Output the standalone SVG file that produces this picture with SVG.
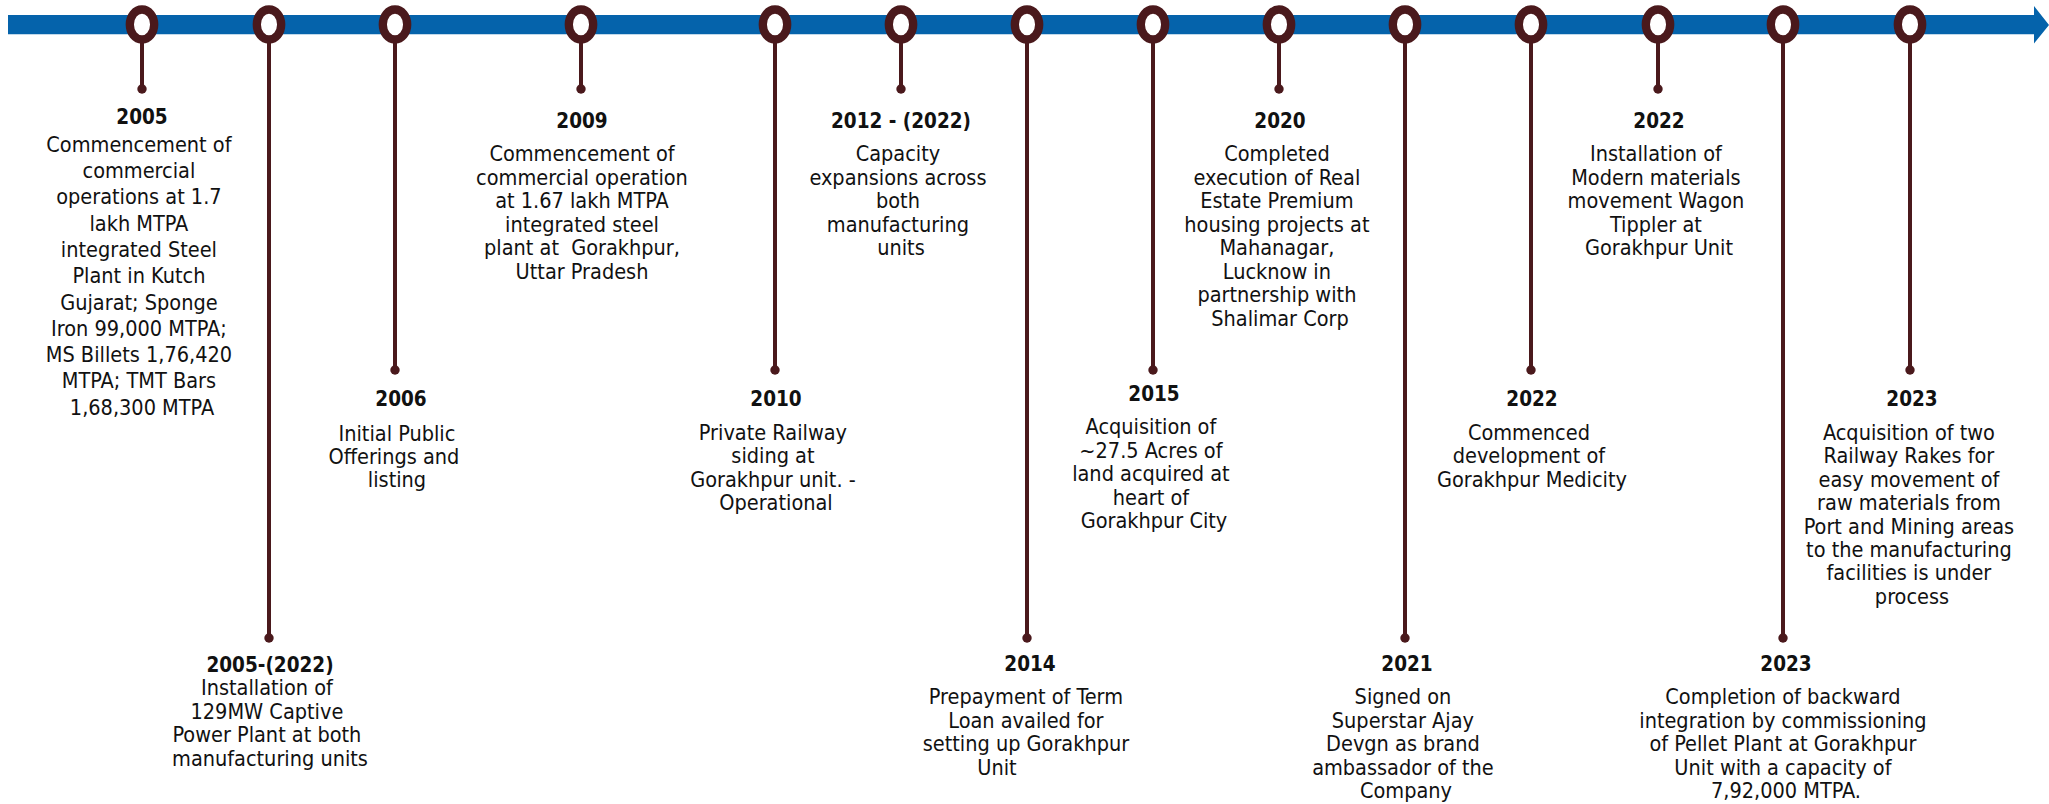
<svg xmlns="http://www.w3.org/2000/svg" width="2049" height="804" viewBox="0 0 2049 804">
<style>
.t{font-family:"DejaVu Sans Condensed","DejaVu Sans",sans-serif;font-stretch:condensed;font-size:21.5px;fill:#111;text-anchor:middle}
.y{font-family:"DejaVu Sans Condensed","DejaVu Sans",sans-serif;font-stretch:condensed;font-size:20.5px;font-weight:bold;fill:#111;text-anchor:middle}
.ring{fill:#fff;stroke:#4a191c;stroke-width:8.3}
.stem{stroke:#4a191c;stroke-width:4;fill:none}
.dot{fill:#4a191c}
</style>
<rect width="2049" height="804" fill="#fff"/>
<g id="timeline">
<polygon points="8,15 2034,15 2034,6 2049,25 2034,43.5 2034,34.3 8,34.3" fill="#0563ab"/>
</g>
<g id="connectors">
<line class="stem" x1="142" y1="40" x2="142" y2="89"/><circle class="dot" cx="142" cy="89" r="4.7"/>
<line class="stem" x1="269" y1="40" x2="269" y2="638"/><circle class="dot" cx="269" cy="638" r="4.7"/>
<line class="stem" x1="395" y1="40" x2="395" y2="370"/><circle class="dot" cx="395" cy="370" r="4.7"/>
<line class="stem" x1="581" y1="40" x2="581" y2="89"/><circle class="dot" cx="581" cy="89" r="4.7"/>
<line class="stem" x1="775" y1="40" x2="775" y2="370"/><circle class="dot" cx="775" cy="370" r="4.7"/>
<line class="stem" x1="901" y1="40" x2="901" y2="89"/><circle class="dot" cx="901" cy="89" r="4.7"/>
<line class="stem" x1="1027" y1="40" x2="1027" y2="638"/><circle class="dot" cx="1027" cy="638" r="4.7"/>
<line class="stem" x1="1153" y1="40" x2="1153" y2="370"/><circle class="dot" cx="1153" cy="370" r="4.7"/>
<line class="stem" x1="1279" y1="40" x2="1279" y2="89"/><circle class="dot" cx="1279" cy="89" r="4.7"/>
<line class="stem" x1="1405" y1="40" x2="1405" y2="638"/><circle class="dot" cx="1405" cy="638" r="4.7"/>
<line class="stem" x1="1531" y1="40" x2="1531" y2="370"/><circle class="dot" cx="1531" cy="370" r="4.7"/>
<line class="stem" x1="1658" y1="40" x2="1658" y2="89"/><circle class="dot" cx="1658" cy="89" r="4.7"/>
<line class="stem" x1="1783" y1="40" x2="1783" y2="638"/><circle class="dot" cx="1783" cy="638" r="4.7"/>
<line class="stem" x1="1910" y1="40" x2="1910" y2="370"/><circle class="dot" cx="1910" cy="370" r="4.7"/>
</g>
<g id="n2005">
<ellipse class="ring" cx="142" cy="24.5" rx="12.2" ry="15"/>
<text class="y" x="142" y="124">2005</text>
<text class="t">
<tspan x="142" y="151.7">Commencement of</tspan>
<tspan x="142" y="178">commercial</tspan>
<tspan x="142" y="204.3">operations at 1.7</tspan>
<tspan x="142" y="230.6">lakh MTPA</tspan>
<tspan x="142" y="257">integrated Steel</tspan>
<tspan x="142" y="283.2">Plant in Kutch</tspan>
<tspan x="142" y="309.5">Gujarat; Sponge</tspan>
<tspan x="142" y="335.8">Iron 99,000 MTPA;</tspan>
<tspan x="142" y="362">MS Billets 1,76,420</tspan>
<tspan x="142" y="388.4">MTPA; TMT Bars</tspan>
<tspan x="142" y="414.7">1,68,300 MTPA</tspan>
</text>
</g>
<g id="n2005-2022">
<ellipse class="ring" cx="269" cy="24.5" rx="12.2" ry="15"/>
<text class="y" x="270" y="671.7">2005-(2022)</text>
<text class="t">
<tspan x="270" y="695">Installation of</tspan>
<tspan x="270" y="718.5">129MW Captive</tspan>
<tspan x="270" y="742">Power Plant at both</tspan>
<tspan x="270" y="765.5">manufacturing units</tspan>
</text>
</g>
<g id="n2006">
<ellipse class="ring" cx="395" cy="24.5" rx="12.2" ry="15"/>
<text class="y" x="401" y="406">2006</text>
<text class="t">
<tspan x="400" y="440.5">Initial Public</tspan>
<tspan x="397" y="463.5">Offerings and</tspan>
<tspan x="397" y="486.5">listing</tspan>
</text>
</g>
<g id="n2009">
<ellipse class="ring" cx="581" cy="24.5" rx="12.2" ry="15"/>
<text class="y" x="582" y="128.3">2009</text>
<text class="t" xml:space="preserve"><tspan x="582" y="161">Commencement of</tspan><tspan x="582" y="184.5">commercial operation</tspan><tspan x="582" y="208">at 1.67 lakh MTPA</tspan><tspan x="582" y="231.5">integrated steel</tspan><tspan x="582" y="255">plant at  Gorakhpur,</tspan><tspan x="582" y="278.5">Uttar Pradesh</tspan></text>
</g>
<g id="n2010">
<ellipse class="ring" cx="775" cy="24.5" rx="12.2" ry="15"/>
<text class="y" x="776" y="406">2010</text>
<text class="t">
<tspan x="776" y="440">Private Railway</tspan>
<tspan x="776" y="463.3">siding at</tspan>
<tspan x="776" y="486.7">Gorakhpur unit. -</tspan>
<tspan x="776" y="510">Operational</tspan>
</text>
</g>
<g id="n2012">
<ellipse class="ring" cx="901" cy="24.5" rx="12.2" ry="15"/>
<text class="y" x="901" y="128.3">2012 - (2022)</text>
<text class="t">
<tspan x="901" y="161">Capacity</tspan>
<tspan x="901" y="184.5">expansions across</tspan>
<tspan x="901" y="208">both</tspan>
<tspan x="901" y="231.5">manufacturing</tspan>
<tspan x="901" y="255">units</tspan>
</text>
</g>
<g id="n2014">
<ellipse class="ring" cx="1027" cy="24.5" rx="12.2" ry="15"/>
<text class="y" x="1030" y="671">2014</text>
<text class="t">
<tspan x="1029" y="704">Prepayment of Term</tspan>
<tspan x="1029" y="727.5">Loan availed for</tspan>
<tspan x="1029" y="751">setting up Gorakhpur</tspan>
<tspan x="997" y="774.5">Unit</tspan>
</text>
</g>
<g id="n2015">
<ellipse class="ring" cx="1153" cy="24.5" rx="12.2" ry="15"/>
<text class="y" x="1154" y="400.7">2015</text>
<text class="t">
<tspan x="1154" y="434">Acquisition of</tspan>
<tspan x="1154" y="457.5">~27.5 Acres of</tspan>
<tspan x="1154" y="481">land acquired at</tspan>
<tspan x="1154" y="504.5">heart of</tspan>
<tspan x="1154" y="528">Gorakhpur City</tspan>
</text>
</g>
<g id="n2020">
<ellipse class="ring" cx="1279" cy="24.5" rx="12.2" ry="15"/>
<text class="y" x="1280" y="128.3">2020</text>
<text class="t">
<tspan x="1280" y="161">Completed</tspan>
<tspan x="1280" y="184.5">execution of Real</tspan>
<tspan x="1280" y="208">Estate Premium</tspan>
<tspan x="1280" y="231.5">housing projects at</tspan>
<tspan x="1280" y="255">Mahanagar,</tspan>
<tspan x="1280" y="278.5">Lucknow in</tspan>
<tspan x="1280" y="302">partnership with</tspan>
<tspan x="1280" y="325.5">Shalimar Corp</tspan>
</text>
</g>
<g id="n2021">
<ellipse class="ring" cx="1405" cy="24.5" rx="12.2" ry="15"/>
<text class="y" x="1407" y="671">2021</text>
<text class="t">
<tspan x="1406" y="704">Signed on</tspan>
<tspan x="1406" y="727.5">Superstar Ajay</tspan>
<tspan x="1406" y="751">Devgn as brand</tspan>
<tspan x="1406" y="774.5">ambassador of the</tspan>
<tspan x="1406" y="798">Company</tspan>
</text>
</g>
<g id="n2022a">
<ellipse class="ring" cx="1531" cy="24.5" rx="12.2" ry="15"/>
<text class="y" x="1532" y="406">2022</text>
<text class="t">
<tspan x="1532" y="440">Commenced</tspan>
<tspan x="1532" y="463.3">development of</tspan>
<tspan x="1532" y="486.7">Gorakhpur Medicity</tspan>
</text>
</g>
<g id="n2022b">
<ellipse class="ring" cx="1658" cy="24.5" rx="12.2" ry="15"/>
<text class="y" x="1659" y="128.3">2022</text>
<text class="t">
<tspan x="1659" y="161">Installation of</tspan>
<tspan x="1659" y="184.5">Modern materials</tspan>
<tspan x="1659" y="208">movement Wagon</tspan>
<tspan x="1659" y="231.5">Tippler at</tspan>
<tspan x="1659" y="255">Gorakhpur Unit</tspan>
</text>
</g>
<g id="n2023a">
<ellipse class="ring" cx="1783" cy="24.5" rx="12.2" ry="15"/>
<text class="y" x="1786" y="671">2023</text>
<text class="t">
<tspan x="1786" y="704">Completion of backward</tspan>
<tspan x="1786" y="727.5">integration by commissioning</tspan>
<tspan x="1786" y="751">of Pellet Plant at Gorakhpur</tspan>
<tspan x="1786" y="774.5">Unit with a capacity of</tspan>
<tspan x="1786" y="798">7,92,000 MTPA.</tspan>
</text>
</g>
<g id="n2023b">
<ellipse class="ring" cx="1910" cy="24.5" rx="12.2" ry="15"/>
<text class="y" x="1912" y="406">2023</text>
<text class="t">
<tspan x="1912" y="440">Acquisition of two</tspan>
<tspan x="1912" y="463.4">Railway Rakes for</tspan>
<tspan x="1912" y="486.8">easy movement of</tspan>
<tspan x="1912" y="510.2">raw materials from</tspan>
<tspan x="1912" y="533.6">Port and Mining areas</tspan>
<tspan x="1912" y="557">to the manufacturing</tspan>
<tspan x="1912" y="580.4">facilities is under</tspan>
<tspan x="1912" y="603.8">process</tspan>
</text>
</g>
</svg>
